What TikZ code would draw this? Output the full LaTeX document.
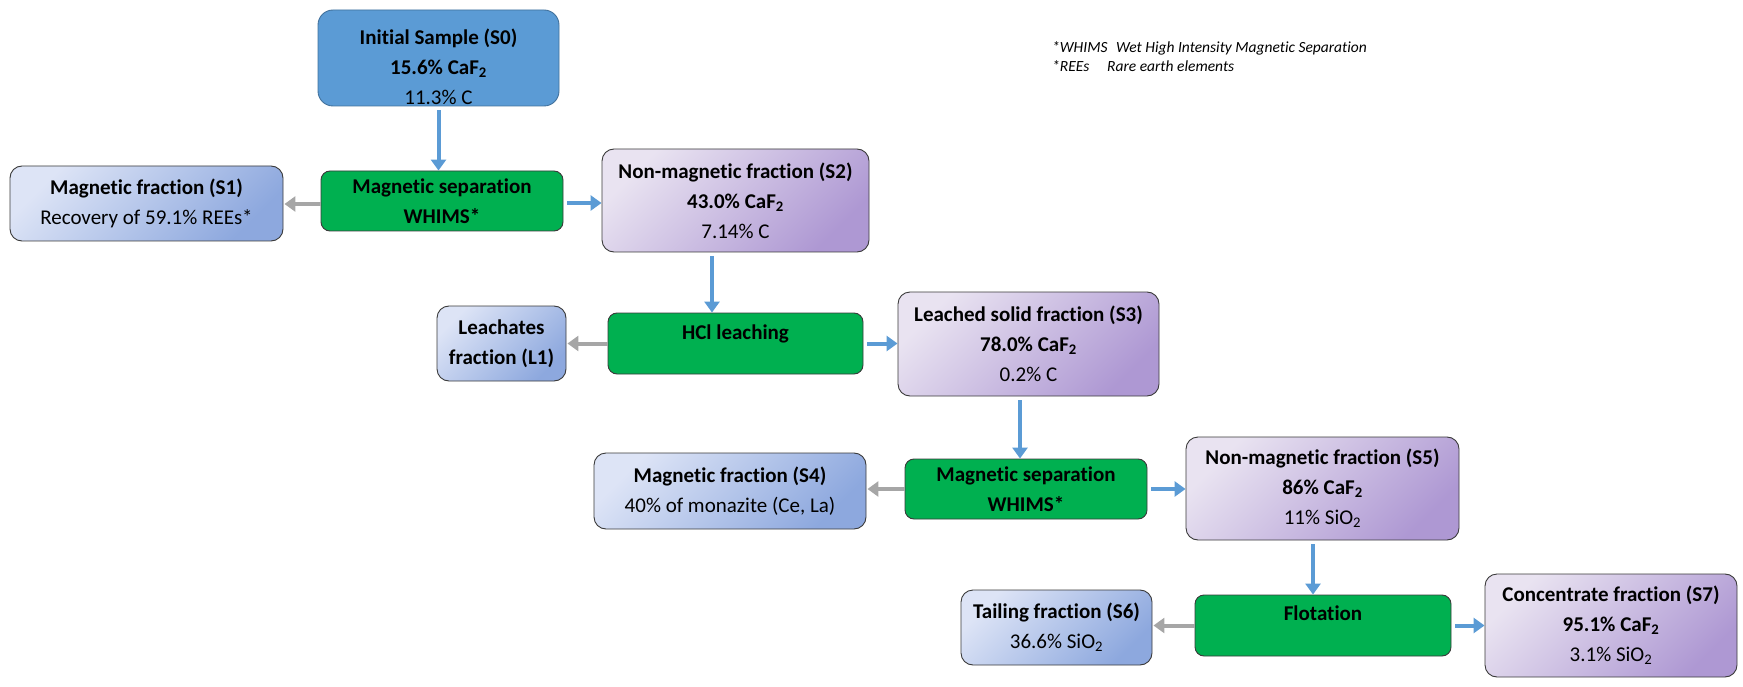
\documentclass[tikz,border=0pt]{standalone}
\usepackage{fontspec}
\setmainfont{Carlito}[Ligatures=NoCommon]
\usetikzlibrary{arrows.meta}
\definecolor{bluearrow}{HTML}{5B9BD5}
\definecolor{grayarrow}{HTML}{A6A6A6}
\definecolor{procgreen}{HTML}{00B050}
\definecolor{samplefill}{HTML}{5B9BD5}
\definecolor{sampleedge}{HTML}{41719C}
\definecolor{bluelight}{HTML}{DDE4F6}
\definecolor{bluedark}{HTML}{8DA8DE}
\definecolor{purplelight}{HTML}{E9E3F1}
\definecolor{purpledark}{HTML}{AE98D3}
\definecolor{edgegray}{HTML}{3A3A3A}
\tikzset{
  box/.style={draw=edgegray, line width=0.9pt, rounded corners=12pt, align=center,
    inner sep=0pt, font=\fontsize{21}{30}\selectfont, text=black},
  boxtext/.style={align=center, inner sep=0pt, font=\fontsize{21}{30}\selectfont, text=black},
  initbox/.style={box, fill=samplefill, draw=sampleedge, rounded corners=15pt},
  procbox/.style={box, fill=procgreen, rounded corners=9pt},
  bluebox/.style={box, top color=bluelight, bottom color=bluedark, shading angle=45},
  purplebox/.style={box, top color=purplelight, bottom color=purpledark, shading angle=45},
  flowarrow/.style={draw=bluearrow, line width=4pt, -{Triangle[length=11pt,width=15pt]}, shorten <=4pt},
  backarrow/.style={draw=grayarrow, line width=4pt, -{Triangle[length=11pt,width=15pt]}, shorten >=1pt},
  legend/.style={align=left, inner sep=0pt, anchor=north west, font=\fontsize{15.5}{19}\selectfont\itshape}
}
\begin{document}
\begin{tikzpicture}[x=1pt, y=-1pt]
\useasboundingbox (0,0) rectangle (1743,687);
% nodes
\node[initbox, minimum width=241pt, minimum height=96pt] (S0) at (438.5,58) {};
\node[boxtext] (S0text) at (438.5,67)
  {\textbf{Initial Sample (S0)}\\\textbf{15.6\% CaF\textsubscript{2}}\\11.3\% C};
\node[procbox, minimum width=242pt, minimum height=60pt] (MS1) at (442,201)
  {\textbf{Magnetic separation}\\\textbf{WHIMS*}};
\node[bluebox, minimum width=273pt, minimum height=75pt] (S1) at (146.5,203.5)
  {\textbf{Magnetic fraction (S1)}\\Recovery of 59.1\% REEs*};
\node[purplebox, minimum width=267pt, minimum height=103pt] (S2) at (735.5,200.5)
  {\textbf{Non-magnetic fraction (S2)}\\\textbf{43.0\% CaF\textsubscript{2}}\\7.14\% C};
\node[procbox, minimum width=255pt, minimum height=61pt, text depth=22pt] (HCl) at (735.5,343.5)
  {\textbf{HCl leaching}};
\node[bluebox, minimum width=129pt, minimum height=75pt] (L1) at (501.5,343.5)
  {\textbf{Leachates}\\\textbf{fraction (L1)}};
\node[purplebox, minimum width=261pt, minimum height=104pt] (S3) at (1028.5,344)
  {\textbf{Leached solid fraction (S3)}\\\textbf{78.0\% CaF\textsubscript{2}}\\0.2\% C};
\node[procbox, minimum width=242pt, minimum height=60pt] (MS2) at (1026,489)
  {\textbf{Magnetic separation}\\\textbf{WHIMS*}};
\node[bluebox, minimum width=272pt, minimum height=76pt] (S4) at (730,491)
  {\textbf{Magnetic fraction (S4)}\\40\% of monazite (Ce, La)};
\node[purplebox, minimum width=273pt, minimum height=103pt] (S5) at (1322.5,488.5)
  {\textbf{Non-magnetic fraction (S5)}\\\textbf{86\% CaF\textsubscript{2}}\\11\% SiO\textsubscript{2}};
\node[procbox, minimum width=256pt, minimum height=61pt, text depth=24pt] (Flot) at (1323,625.5)
  {\textbf{Flotation}};
\node[bluebox, minimum width=191pt, minimum height=75pt] (S6) at (1056.5,627.5)
  {\textbf{Tailing fraction (S6)}\\36.6\% SiO\textsubscript{2}};
\node[purplebox, minimum width=252pt, minimum height=103pt] (S7) at (1611,625.5)
  {\textbf{Concentrate fraction (S7)}\\\textbf{95.1\% CaF\textsubscript{2}}\\3.1\% SiO\textsubscript{2}};
\node[legend] (leg) at (1052,41)
  {\makebox[64pt][l]{*WHIMS}Wet High Intensity Magnetic Separation\\
   \makebox[55pt][l]{*REEs}Rare earth elements};
% connectors
\draw[flowarrow] (S0.south) -- (S0.south |- MS1.north);
\draw[backarrow] ([yshift=-3pt]MS1.west) -- ([yshift=-3pt]MS1.west -| S1.east);
\draw[flowarrow] ([yshift=-2pt]MS1.east) -- ([yshift=-2pt]MS1.east -| S2.west);
\draw[flowarrow] ([xshift=-23.5pt]S2.south) -- ([xshift=-23.5pt]S2.south |- HCl.north);
\draw[backarrow] (HCl.west) -- (HCl.west -| L1.east);
\draw[flowarrow] (HCl.east) -- (HCl.east -| S3.west);
\draw[flowarrow] ([xshift=-8.5pt]S3.south) -- ([xshift=-8.5pt]S3.south |- MS2.north);
\draw[backarrow] (MS2.west) -- (MS2.west -| S4.east);
\draw[flowarrow] (MS2.east) -- (MS2.east -| S5.west);
\draw[flowarrow] ([xshift=-9.5pt]S5.south) -- ([xshift=-9.5pt]S5.south |- Flot.north);
\draw[backarrow] (Flot.west) -- (Flot.west -| S6.east);
\draw[flowarrow] (Flot.east) -- (Flot.east -| S7.west);
\end{tikzpicture}
\end{document}
